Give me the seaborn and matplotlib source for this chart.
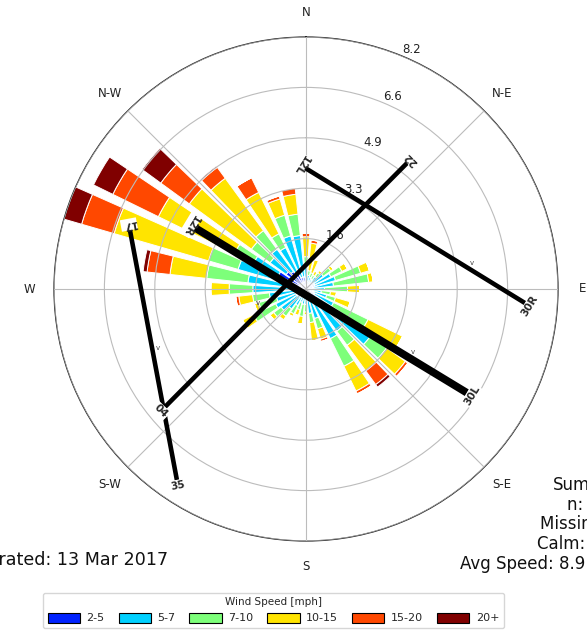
import numpy as np
import matplotlib
matplotlib.use("Agg")
import matplotlib.pyplot as plt
from matplotlib.patches import Patch
import seaborn as sns

# ---------------- data ----------------
directions = list(range(0, 360, 10))
speed_bins = ["2-5", "5-7", "7-10", "10-15", "15-20", "20+"]
# frequency [%] per direction for each speed bin (stacked)
freq_2_5 = [0.35, 0.25, 0.20, 0.20, 0.25, 0.30, 0.30, 0.30, 0.25, 0.20, 0.20, 0.25,
            0.30, 0.40, 0.40, 0.40, 0.30, 0.30, 0.20, 0.20, 0.20, 0.25, 0.30, 0.35,
            0.35, 0.35, 0.30, 0.30, 0.35, 0.50, 1.00, 0.80, 0.70, 0.60, 0.40, 0.40]
freq_5_7 = [0.35, 0.20, 0.20, 0.15, 0.25, 0.40, 0.60, 0.70, 0.65, 0.40, 0.30, 0.45,
            0.70, 2.20, 1.30, 1.40, 0.70, 0.50, 0.30, 0.30, 0.25, 0.35, 0.50, 0.65,
            0.75, 0.65, 0.90, 1.43, 1.55, 1.80, 0.90, 0.65, 0.90, 0.90, 1.40, 1.35]
freq_7_10 = [0.35, 0.15, 0.15, 0.15, 0.15, 0.30, 0.40, 0.85, 1.15, 0.75, 0.30, 0.30,
             1.25, 0.65, 0.57, 1.00, 0.35, 0.30, 0.25, 0.40, 0.25, 0.30, 0.30, 0.30,
             0.80, 0.60, 0.55, 0.77, 1.35, 1.00, 0.70, 0.75, 0.75, 0.50, 0.70, 0.70]
freq_10_15 = [0.65, 0.90, 0.45, 0.15, 0.10, 0.10, 0.20, 0.30, 0.15, 0.40, 0.20, 0.50,
              1.25, 0.75, 1.03, 0.90, 0.35, 0.60, 0.10, 0.25, 0.20, 0.10, 0.15, 0.15,
              0.40, 0.15, 0.45, 0.60, 1.20, 3.20, 2.75, 2.50, 2.11, 1.50, 0.55, 0.65]
freq_15_20 = [0.12, 0.10, 0.00, 0.00, 0.00, 0.00, 0.00, 0.00, 0.00, 0.00, 0.00, 0.00,
              0.00, 0.10, 0.55, 0.10, 0.08, 0.00, 0.00, 0.00, 0.00, 0.00, 0.00, 0.00,
              0.00, 0.00, 0.10, 0.00, 0.75, 1.10, 1.65, 1.15, 0.44, 0.53, 0.10, 0.20]
freq_20p = [0.00, 0.00, 0.00, 0.00, 0.00, 0.00, 0.00, 0.00, 0.00, 0.00, 0.00, 0.00,
            0.00, 0.00, 0.10, 0.00, 0.00, 0.00, 0.00, 0.00, 0.00, 0.00, 0.00, 0.00,
            0.00, 0.00, 0.00, 0.00, 0.13, 0.60, 0.70, 0.75, 0.05, 0.00, 0.00, 0.00]
series = [freq_2_5, freq_5_7, freq_7_10, freq_10_15, freq_15_20, freq_20p]
bin_colors = ["#0022ff", "#00d0ff", "#7dff7a", "#ffe400", "#ff4800", "#800000"]

ring_values = [1.64, 3.28, 4.92, 6.56, 8.2]
ring_labels = ["1.6", "3.3", "4.9", "6.6", "8.2"]
compass_angles = [0, 45, 90, 135, 180, 225, 270, 315]
compass_labels = ["N", "N-E", "E", "S-E", "S", "S-W", "W", "N-W"]

# runways: name at end A, name at end B, end coordinates (x, y) in chart units
runway_a = ["12L", "12R", "04", "17"]
runway_b = ["30R", "30L", "22", "35"]
runway_ax = [-0.03, -3.61, -4.59, -5.73]
runway_ay = [3.94, 1.99, -3.84, 1.92]
runway_bx = [7.13, 5.24, 3.29, -4.20]
runway_by = [-0.46, -3.38, 4.10, -6.22]
runway_lw = [3.3, 5.5, 3.3, 3.3]
# small direction ticks along the runways
arrow_x = [5.40, 3.48, -4.82, -1.56]
arrow_y = [0.85, -2.05, -1.92, -0.46]

generated = "Generated: 13 Mar 2017"
summary_lines = ["Summary", "n: 8760", "Missing: 0", "Calm: 2.4%", "Avg Speed: 8.9 mph"]

# ---------------- style ----------------
sns.set_theme(style="white")
plt.rcParams["font.family"] = ["DejaVu Sans"]
palette = sns.color_palette(bin_colors)

fig = plt.figure(figsize=(5.87, 6.36), dpi=100)
rect = [54 / 587, (636 - 541) / 636, 504 / 587, 504 / 636]
ax = fig.add_axes(rect, projection="polar")
ax.set_theta_zero_location("N")
ax.set_theta_direction(-1)

theta = np.deg2rad(directions)
width = np.deg2rad(7.8)
bottom = np.zeros(len(directions))
for vals, col, lab in zip(series, palette, speed_bins):
    vals = np.asarray(vals)
    ax.bar(theta, vals, width=width, bottom=bottom, color=col,
           edgecolor="white", linewidth=0.7, label=lab, zorder=1)
    bottom = bottom + vals

ax.set_ylim(0, 8.2)
ax.set_yticks(ring_values)
ax.set_yticklabels(ring_labels, fontsize=8.5, color="#222222")
ax.set_rlabel_position(22.5)
ax.set_thetagrids(compass_angles, labels=compass_labels)
ax.tick_params(axis="x", pad=5, labelsize=8.5, colors="#222222")
ax.set_axisbelow(False)
ax.grid(True, color="#bcbcbc", linewidth=0.8, zorder=1.5)
ax.spines["polar"].set_color("#222222")
ax.spines["polar"].set_linewidth(0.9)
ax.set_facecolor("white")

# runway overlay on a cartesian axes with the same frame
ov = fig.add_axes(rect, facecolor="none")
ov.set_xlim(-8.2, 8.2)
ov.set_ylim(-8.2, 8.2)
ov.axis("off")
for na, nb, xa, ya, xb, yb, lw in zip(runway_a, runway_b, runway_ax, runway_ay,
                                      runway_bx, runway_by, runway_lw):
    ov.plot([xa, xb], [ya, yb], color="black", lw=lw, solid_capstyle="butt", zorder=5)
    dx, dy = xb - xa, yb - ya
    L = np.hypot(dx, dy)
    ux, uy = dx / L, dy / L
    brg_ab = np.degrees(np.arctan2(dx, dy))
    brg_ba = np.degrees(np.arctan2(-dx, -dy))
    box = dict(facecolor="white", edgecolor="none", pad=0.6)
    ov.text(xa - 0.18 * ux, ya - 0.18 * uy, na, rotation=-brg_ab, rotation_mode="anchor",
            ha="center", va="center", fontsize=7.5, fontweight="bold", bbox=box, zorder=6)
    ov.text(xb + 0.18 * ux, yb + 0.18 * uy, nb, rotation=-brg_ba, rotation_mode="anchor",
            ha="center", va="center", fontsize=7.5, fontweight="bold", bbox=box, zorder=6)
for xx, yy in zip(arrow_x, arrow_y):
    ov.text(xx, yy, "v", ha="center", va="center", fontsize=5, color="#444444", zorder=6)

# text annotations
fig.text(168 / 587, 1 - 560 / 636, generated, ha="right", va="center", fontsize=12.6,
         color="#111111")
sum_x = [553, 567, 540, 537, 460]
sum_y = [485, 505, 524, 544, 564]
for s, xx, yy in zip(summary_lines, sum_x, sum_y):
    fig.text(xx / 587, 1 - yy / 636, s, ha="left", va="center", fontsize=12, color="#111111")

handles = [Patch(facecolor=c, edgecolor="black", linewidth=0.8, label=l)
           for c, l in zip(palette, speed_bins)]
leg = fig.legend(handles=handles, loc="lower center", bbox_to_anchor=(0.466, 0.004),
                 ncol=6, title="Wind Speed [mph]", fontsize=8, title_fontsize=7.5,
                 handlelength=2.9, handleheight=1.0, handletextpad=0.6,
                 columnspacing=1.25, frameon=True, fancybox=True)
leg.get_frame().set_edgecolor("#cccccc")

fig.savefig("out.png", dpi=100)
